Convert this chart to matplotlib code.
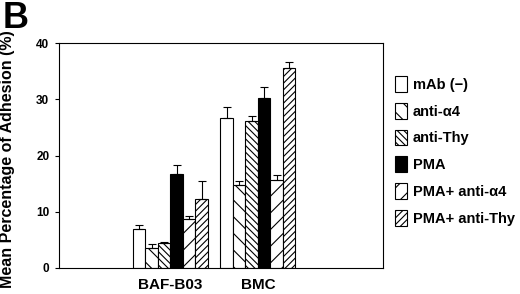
import matplotlib.pyplot as plt
import numpy as np

plt.rcParams['font.family'] = ['Liberation Sans', 'DejaVu Sans']
plt.rcParams['font.weight'] = 'bold'
plt.rcParams['hatch.linewidth'] = 0.8

# Dati
gruppi = ["BAF-B03", "BMC"]
trattamenti = ["mAb (\u2212)", "anti-\u03b14", "anti-Thy", "PMA", "PMA+ anti-\u03b14", "PMA+ anti-Thy"]
valori = [
    [6.9, 3.6, 4.4, 16.7, 8.7, 12.3],
    [26.7, 14.8, 26.1, 30.3, 15.7, 35.5],
]
errori = [
    [0.7, 0.6, 0.3, 1.7, 0.6, 3.2],
    [2.0, 0.7, 1.0, 1.8, 0.8, 1.1],
]

colori = ["white", "white", "white", "black", "white", "white"]
tratteggi = [None, "\\\\", "\\\\\\\\\\", None, "//", "/////"]

fig = plt.figure(figsize=(5.2, 2.94), dpi=100)
ax = fig.add_axes([59 / 520, 1 - 268 / 294, 324 / 520, 225 / 294])

centri = np.array([0.0, 7.0])
larghezza = 1.0
for i, nome in enumerate(trattamenti):
    x = centri + (i - 2.5) * larghezza
    v = [valori[g][i] for g in range(len(gruppi))]
    e = [errori[g][i] for g in range(len(gruppi))]
    ax.bar(x, v, width=larghezza, color=colori[i], edgecolor="black",
           hatch=tratteggi[i], linewidth=0.8, label=nome)
    ax.errorbar(x, v, yerr=[np.zeros(len(e)), e], fmt="none", ecolor="black",
                elinewidth=0.8, capsize=3, capthick=0.8)

ax.set_xlim(-8.9, 17.0)
ax.set_ylim(0, 40)
ax.set_yticks([0, 10, 20, 30, 40])
ax.set_xticks(centri)
ax.set_xticklabels(gruppi, fontsize=11, fontweight="bold")
ax.tick_params(axis="x", length=0, pad=7)
ax.tick_params(axis="y", length=3, labelsize=8.5, pad=4)
for s in ax.spines.values():
    s.set_linewidth(0.8)
ax.set_ylabel("Mean Percentage of Adhesion (%)", fontsize=11.5, fontweight="bold")
ax.yaxis.set_label_coords(-0.135, 0.485)

ax.legend(loc="upper left", bbox_to_anchor=(1.02, 0.88), frameon=False,
          fontsize=10.5, handlelength=0.8, handleheight=1.3, handletextpad=0.4,
          labelspacing=0.75, borderaxespad=0)

fig.text(0.005, 0.995, "B", fontsize=26, fontweight="bold", va="top", ha="left")

fig.savefig("out.png", dpi=100)
